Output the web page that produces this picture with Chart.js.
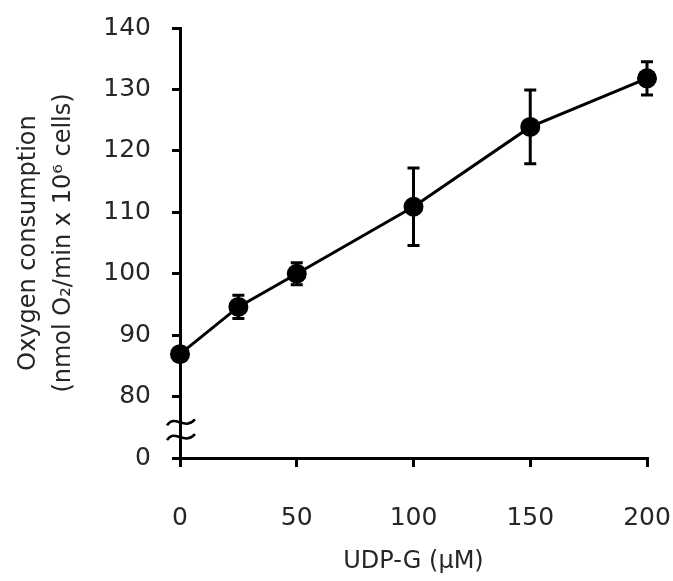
<!DOCTYPE html>
<html>
<head>
<meta charset="utf-8">
<script src="https://cdn.jsdelivr.net/npm/chart.js@4/dist/chart.umd.min.js"></script>
<style>
  html, body { margin: 0; padding: 0; background: #fff; }
  #wrap { width: 673px; height: 581px; }
</style>
</head>
<body>
<div id="wrap"><canvas id="oxygenChart"></canvas></div>
<script>
// UDP-G dose (uM) vs oxygen consumption
const doses = [0, 25, 50, 100, 150, 200];
const consumption = [86.9, 94.6, 100.0, 110.9, 123.9, 131.8];
const errors = [1.0, 1.9, 1.8, 6.3, 6.0, 2.7];

// the y axis is broken: its bottom tick (70) stands for 0
const yMin = 70, yMax = 140;
const breakValues = [75.8, 73.4];

const textColor = '#262626';
const fontFamily = "'DejaVu Sans', sans-serif";

const errorBars = {
  id: 'errorBars',
  beforeDatasetsDraw(chart) {
    const ctx = chart.ctx;
    const x = chart.scales.x, y = chart.scales.y;
    ctx.save();
    ctx.strokeStyle = '#000';
    ctx.lineWidth = 3;
    doses.forEach((d, i) => {
      const px = x.getPixelForValue(d);
      const top = y.getPixelForValue(consumption[i] + errors[i]);
      const bot = y.getPixelForValue(consumption[i] - errors[i]);
      ctx.beginPath();
      ctx.moveTo(px, top); ctx.lineTo(px, bot);
      ctx.moveTo(px - 6, top); ctx.lineTo(px + 6, top);
      ctx.moveTo(px - 6, bot); ctx.lineTo(px + 6, bot);
      ctx.stroke();
    });
    ctx.restore();
  }
};

const axisBreak = {
  id: 'axisBreak',
  afterDraw(chart) {
    const ctx = chart.ctx;
    const y = chart.scales.y;
    const x0 = chart.scales.x.getPixelForValue(0);
    ctx.save();
    ctx.strokeStyle = '#000';
    ctx.lineWidth = 2.5;
    breakValues.forEach(v => {
      const py = y.getPixelForValue(v);
      ctx.beginPath();
      ctx.moveTo(x0 - 13, py + 3);
      ctx.bezierCurveTo(x0 - 5, py - 9, x0 + 4, py + 9, x0 + 15, py - 3);
      ctx.stroke();
    });
    ctx.restore();
  }
};

new Chart(document.getElementById('oxygenChart').getContext('2d'), {
  type: 'line',
  data: {
    datasets: [{
      data: doses.map((d, i) => ({ x: d, y: consumption[i] })),
      borderColor: '#000',
      borderWidth: 3,
      backgroundColor: '#000',
      pointRadius: 10,
      pointHoverRadius: 10,
      pointBackgroundColor: '#000',
      pointBorderWidth: 0,
      tension: 0,
      clip: false
    }]
  },
  options: {
    responsive: true,
    maintainAspectRatio: false,
    animation: false,
    layout: { padding: { top: 28, right: 26, left: 0, bottom: 0 } },
    plugins: {
      legend: { display: false },
      tooltip: { enabled: false }
    },
    scales: {
      x: {
        type: 'linear',
        min: 0,
        max: 200,
        afterFit(scale) {
          scale.height = 123;
          scale.paddingLeft = 0;
          scale.paddingRight = 0;
        },
        border: { color: '#000', width: 3 },
        grid: { drawOnChartArea: false, drawTicks: true, tickLength: 9, color: '#000', lineWidth: 3 },
        ticks: { stepSize: 50, color: textColor, padding: 36, font: { family: fontFamily, size: 25 } },
        title: {
          display: true,
          text: 'UDP-G (μM)',
          color: textColor,
          font: { family: fontFamily, size: 24 },
          padding: { top: 0, bottom: 5 }
        }
      },
      y: {
        min: yMin,
        max: yMax,
        afterFit(scale) {
          scale.width = 180;
          scale.paddingTop = 0;
          scale.paddingBottom = 0;
        },
        border: { color: '#000', width: 3 },
        grid: { drawOnChartArea: false, drawTicks: true, tickLength: 8, color: '#000', lineWidth: 3 },
        ticks: {
          stepSize: 10,
          color: textColor,
          padding: 21,
          font: { family: fontFamily, size: 25 },
          callback: v => (v === yMin ? '0' : v)
        },
        title: {
          display: true,
          text: ['Oxygen consumption', '(nmol O₂/min x 10⁶ cells)'],
          color: textColor,
          font: { family: fontFamily, size: 24, lineHeight: 1.46 },
          padding: { top: 11, bottom: 0 }
        }
      }
    }
  },
  plugins: [errorBars, axisBreak]
});
</script>
</body>
</html>
